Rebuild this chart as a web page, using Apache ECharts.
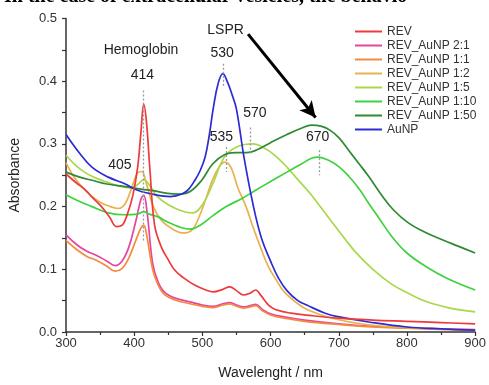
<!DOCTYPE html>
<html>
<head>
<meta charset="utf-8">
<script src="https://cdn.jsdelivr.net/npm/echarts@6/dist/echarts.min.js"></script>
<style>
  html, body { margin: 0; padding: 0; background: #fff; }
  #chart { width: 489px; height: 385px; }
</style>
</head>
<body>
<div id="chart"></div>
<script>
// spectra: [wavelength nm, absorbance]
const rev = [[300,0.252],[315,0.238],[329,0.226],[340,0.213],[352,0.2],[364,0.183],[374,0.168],[382,0.17],[390,0.188],[398,0.218],[405,0.262],[410,0.32],[414,0.363],[418,0.335],[423,0.26],[430,0.17],[440,0.135],[449,0.117],[460,0.098],[473,0.086],[490,0.074],[505,0.067],[516,0.064],[530,0.068],[540,0.072],[550,0.066],[560,0.059],[570,0.062],[578,0.067],[586,0.058],[597,0.043],[607,0.036],[630,0.03],[660,0.026],[700,0.022],[750,0.019],[800,0.017],[850,0.015],[900,0.013]];
const rev21 = [[300,0.155],[315,0.14],[330,0.129],[345,0.122],[360,0.113],[372,0.106],[382,0.113],[392,0.135],[402,0.175],[410,0.212],[414,0.218],[419,0.19],[427,0.11],[435,0.08],[444,0.064],[460,0.054],[482,0.048],[500,0.043],[516,0.041],[530,0.045],[540,0.047],[550,0.043],[560,0.04],[570,0.042],[578,0.044],[588,0.036],[600,0.029],[620,0.024],[650,0.019],[700,0.013],[750,0.009],[800,0.007],[850,0.005],[900,0.004]];
const rev11 = [[300,0.146],[315,0.132],[330,0.121],[345,0.114],[360,0.105],[372,0.097],[382,0.101],[392,0.118],[402,0.145],[410,0.166],[414,0.17],[419,0.15],[427,0.1],[435,0.075],[444,0.06],[460,0.051],[482,0.045],[500,0.041],[516,0.039],[530,0.043],[540,0.045],[550,0.041],[560,0.038],[570,0.04],[578,0.042],[588,0.034],[600,0.027],[620,0.022],[650,0.017],[700,0.012],[750,0.008],[800,0.006],[850,0.004],[900,0.003]];
const rev12 = [[300,0.27],[310,0.25],[320,0.236],[335,0.219],[350,0.207],[365,0.2],[377,0.197],[387,0.205],[397,0.232],[405,0.254],[411,0.256],[418,0.236],[428,0.2],[440,0.178],[455,0.165],[472,0.158],[485,0.163],[495,0.183],[505,0.212],[515,0.243],[525,0.264],[533,0.271],[542,0.262],[552,0.23],[564,0.2],[575,0.165],[586,0.133],[596,0.106],[610,0.08],[620,0.064],[640,0.045],[655,0.035],[690,0.022],[740,0.012],[800,0.007],[850,0.005],[900,0.003]];
const rev15 = [[300,0.282],[315,0.265],[330,0.253],[345,0.245],[360,0.239],[380,0.232],[395,0.23],[405,0.235],[414,0.243],[422,0.235],[434,0.216],[450,0.203],[470,0.193],[486,0.19],[500,0.203],[516,0.238],[526,0.266],[535,0.283],[548,0.294],[562,0.299],[575,0.3],[590,0.294],[605,0.283],[624,0.263],[640,0.243],[658,0.221],[675,0.197],[691,0.174],[708,0.15],[725,0.127],[750,0.1],[778,0.076],[800,0.063],[827,0.049],[860,0.039],[900,0.032]];
const rev110 = [[300,0.219],[320,0.208],[338,0.2],[362,0.19],[385,0.187],[405,0.188],[414,0.192],[422,0.188],[434,0.184],[450,0.175],[465,0.168],[482,0.164],[499,0.172],[516,0.186],[535,0.2],[558,0.213],[578,0.226],[600,0.24],[624,0.255],[645,0.268],[660,0.277],[670,0.279],[685,0.274],[701,0.263],[715,0.248],[730,0.228],[744,0.205],[760,0.18],[778,0.152],[800,0.126],[827,0.105],[860,0.085],[900,0.067]];
const rev150 = [[300,0.255],[320,0.247],[338,0.242],[360,0.236],[387,0.232],[410,0.228],[430,0.225],[449,0.221],[467,0.22],[482,0.224],[499,0.242],[515,0.268],[533,0.283],[548,0.286],[565,0.286],[581,0.291],[600,0.302],[624,0.315],[645,0.325],[660,0.33],[675,0.328],[687,0.322],[700,0.31],[715,0.289],[730,0.268],[744,0.248],[763,0.218],[780,0.195],[802,0.174],[825,0.16],[850,0.148],[875,0.137],[900,0.126]];
const aunp = [[300,0.315],[320,0.285],[338,0.263],[362,0.247],[387,0.236],[405,0.226],[430,0.219],[453,0.216],[470,0.22],[480,0.228],[489,0.242],[497,0.258],[504,0.279],[510,0.313],[516,0.357],[523,0.396],[530,0.412],[537,0.398],[544,0.377],[550,0.355],[561,0.279],[574,0.205],[586,0.152],[600,0.113],[612,0.085],[624,0.066],[640,0.05],[653,0.043],[680,0.03],[701,0.024],[744,0.016],[800,0.008],[850,0.005],[900,0.003]];

const names = ['REV', 'REV_AuNP 2:1', 'REV_AuNP 1:1', 'REV_AuNP 1:2', 'REV_AuNP 1:5', 'REV_AuNP 1:10', 'REV_AuNP 1:50', 'AuNP'];
const colors = ['#ee3a3a', '#e6459c', '#f58a3f', '#e8b24f', '#a9d84c', '#3ed23e', '#2f8a33', '#2c2cd6'];
const spectra = [rev, rev21, rev11, rev12, rev15, rev110, rev150, aunp];

// peak labels and guide lines, in data coordinates
const peakLabels = [
  { text: 'Hemoglobin', at: [410, 0.449] },
  { text: '414', at: [412, 0.409] },
  { text: '405', at: [379, 0.266] },
  { text: 'LSPR', at: [534, 0.481] },
  { text: '530', at: [529, 0.445] },
  { text: '535', at: [528, 0.31] },
  { text: '570', at: [577, 0.349] },
  { text: '670', at: [669, 0.31] }
];
const peakGuides = [[414, 0.385, 0.145], [530, 0.428, 0.39], [535, 0.295, 0.255], [570, 0.326, 0.284], [671, 0.29, 0.25]];
const arrowFrom = [567, 0.475];
const arrowTo = [666, 0.342];

const font = 'Liberation Sans, Arial, sans-serif';
const chart = echarts.init(document.getElementById('chart'));

const series = spectra.map((d, i) => ({
  name: names[i],
  type: 'line',
  data: d,
  smooth: 0.4,
  showSymbol: false,
  lineStyle: { width: 1.7, color: colors[i] },
  itemStyle: { color: colors[i] },
  z: i === 0 ? 3 : 2
}));

series.push({
  name: 'notes',
  type: 'line',
  data: [],
  markPoint: {
    symbol: 'rect',
    symbolSize: 1,
    itemStyle: { color: 'transparent' },
    label: { show: true, position: 'inside', formatter: '{b}', color: '#222', fontSize: 14, fontFamily: font },
    data: peakLabels.map(p => ({ name: p.text, coord: p.at }))
  },
  markLine: {
    silent: true,
    symbol: ['none', 'none'],
    label: { show: false },
    lineStyle: { color: '#9a9a9a', type: [2, 2], width: 1.3 },
    data: peakGuides.map(g => [{ coord: [g[0], g[1]] }, { coord: [g[0], g[2]] }]).concat([[
      { coord: arrowFrom, symbol: 'none' },
      { coord: arrowTo, symbol: 'arrow', symbolSize: [12, 16], lineStyle: { color: '#000', type: 'solid', width: 3 } }
    ]])
  }
});

chart.setOption({
  animation: false,
  backgroundColor: '#fff',
  graphic: [{
    type: 'text',
    left: 4,
    top: -13,
    style: { text: 'In the case of extracellular vesicles, the behavio', font: 'bold 20px "Liberation Serif", serif', fill: '#000' }
  }],
  grid: { left: 62, right: 11, top: 18.5, bottom: 47.5 },
  legend: {
    data: names,
    orient: 'vertical',
    left: 350,
    top: 20,
    icon: 'rect',
    itemWidth: 27,
    itemHeight: 2,
    itemGap: 1,
    textStyle: { fontSize: 12, fontFamily: font, color: '#333', lineHeight: 13 }
  },
  xAxis: {
    type: 'value',
    min: 300,
    max: 900,
    interval: 100,
    name: 'Wavelenght / nm',
    nameLocation: 'middle',
    nameGap: 34,
    nameTextStyle: { fontSize: 14, fontFamily: font, color: '#222' },
    axisLine: { lineStyle: { color: '#333', width: 1.5 } },
    axisTick: { length: 4, lineStyle: { color: '#333', width: 1.2 } },
    minorTick: { show: true, splitNumber: 2, length: 3, lineStyle: { color: '#333', width: 1.2 } },
    axisLabel: { fontSize: 13, fontFamily: font, color: '#333', margin: 5 },
    splitLine: { show: false }
  },
  yAxis: {
    type: 'value',
    min: 0,
    max: 0.5,
    interval: 0.1,
    name: 'Absorbance',
    nameLocation: 'middle',
    nameGap: 44,
    nameTextStyle: { fontSize: 14, fontFamily: font, color: '#222' },
    axisLine: { show: true, lineStyle: { color: '#333', width: 1.5 } },
    axisTick: { show: true, length: 4, lineStyle: { color: '#333', width: 1.2 } },
    minorTick: { show: true, splitNumber: 2, length: 4, lineStyle: { color: '#333', width: 1.2 } },
    axisLabel: { fontSize: 13, fontFamily: font, color: '#333', margin: 9, formatter: v => v.toFixed(1) },
    splitLine: { show: false }
  },
  series: series
});
</script>
</body>
</html>
